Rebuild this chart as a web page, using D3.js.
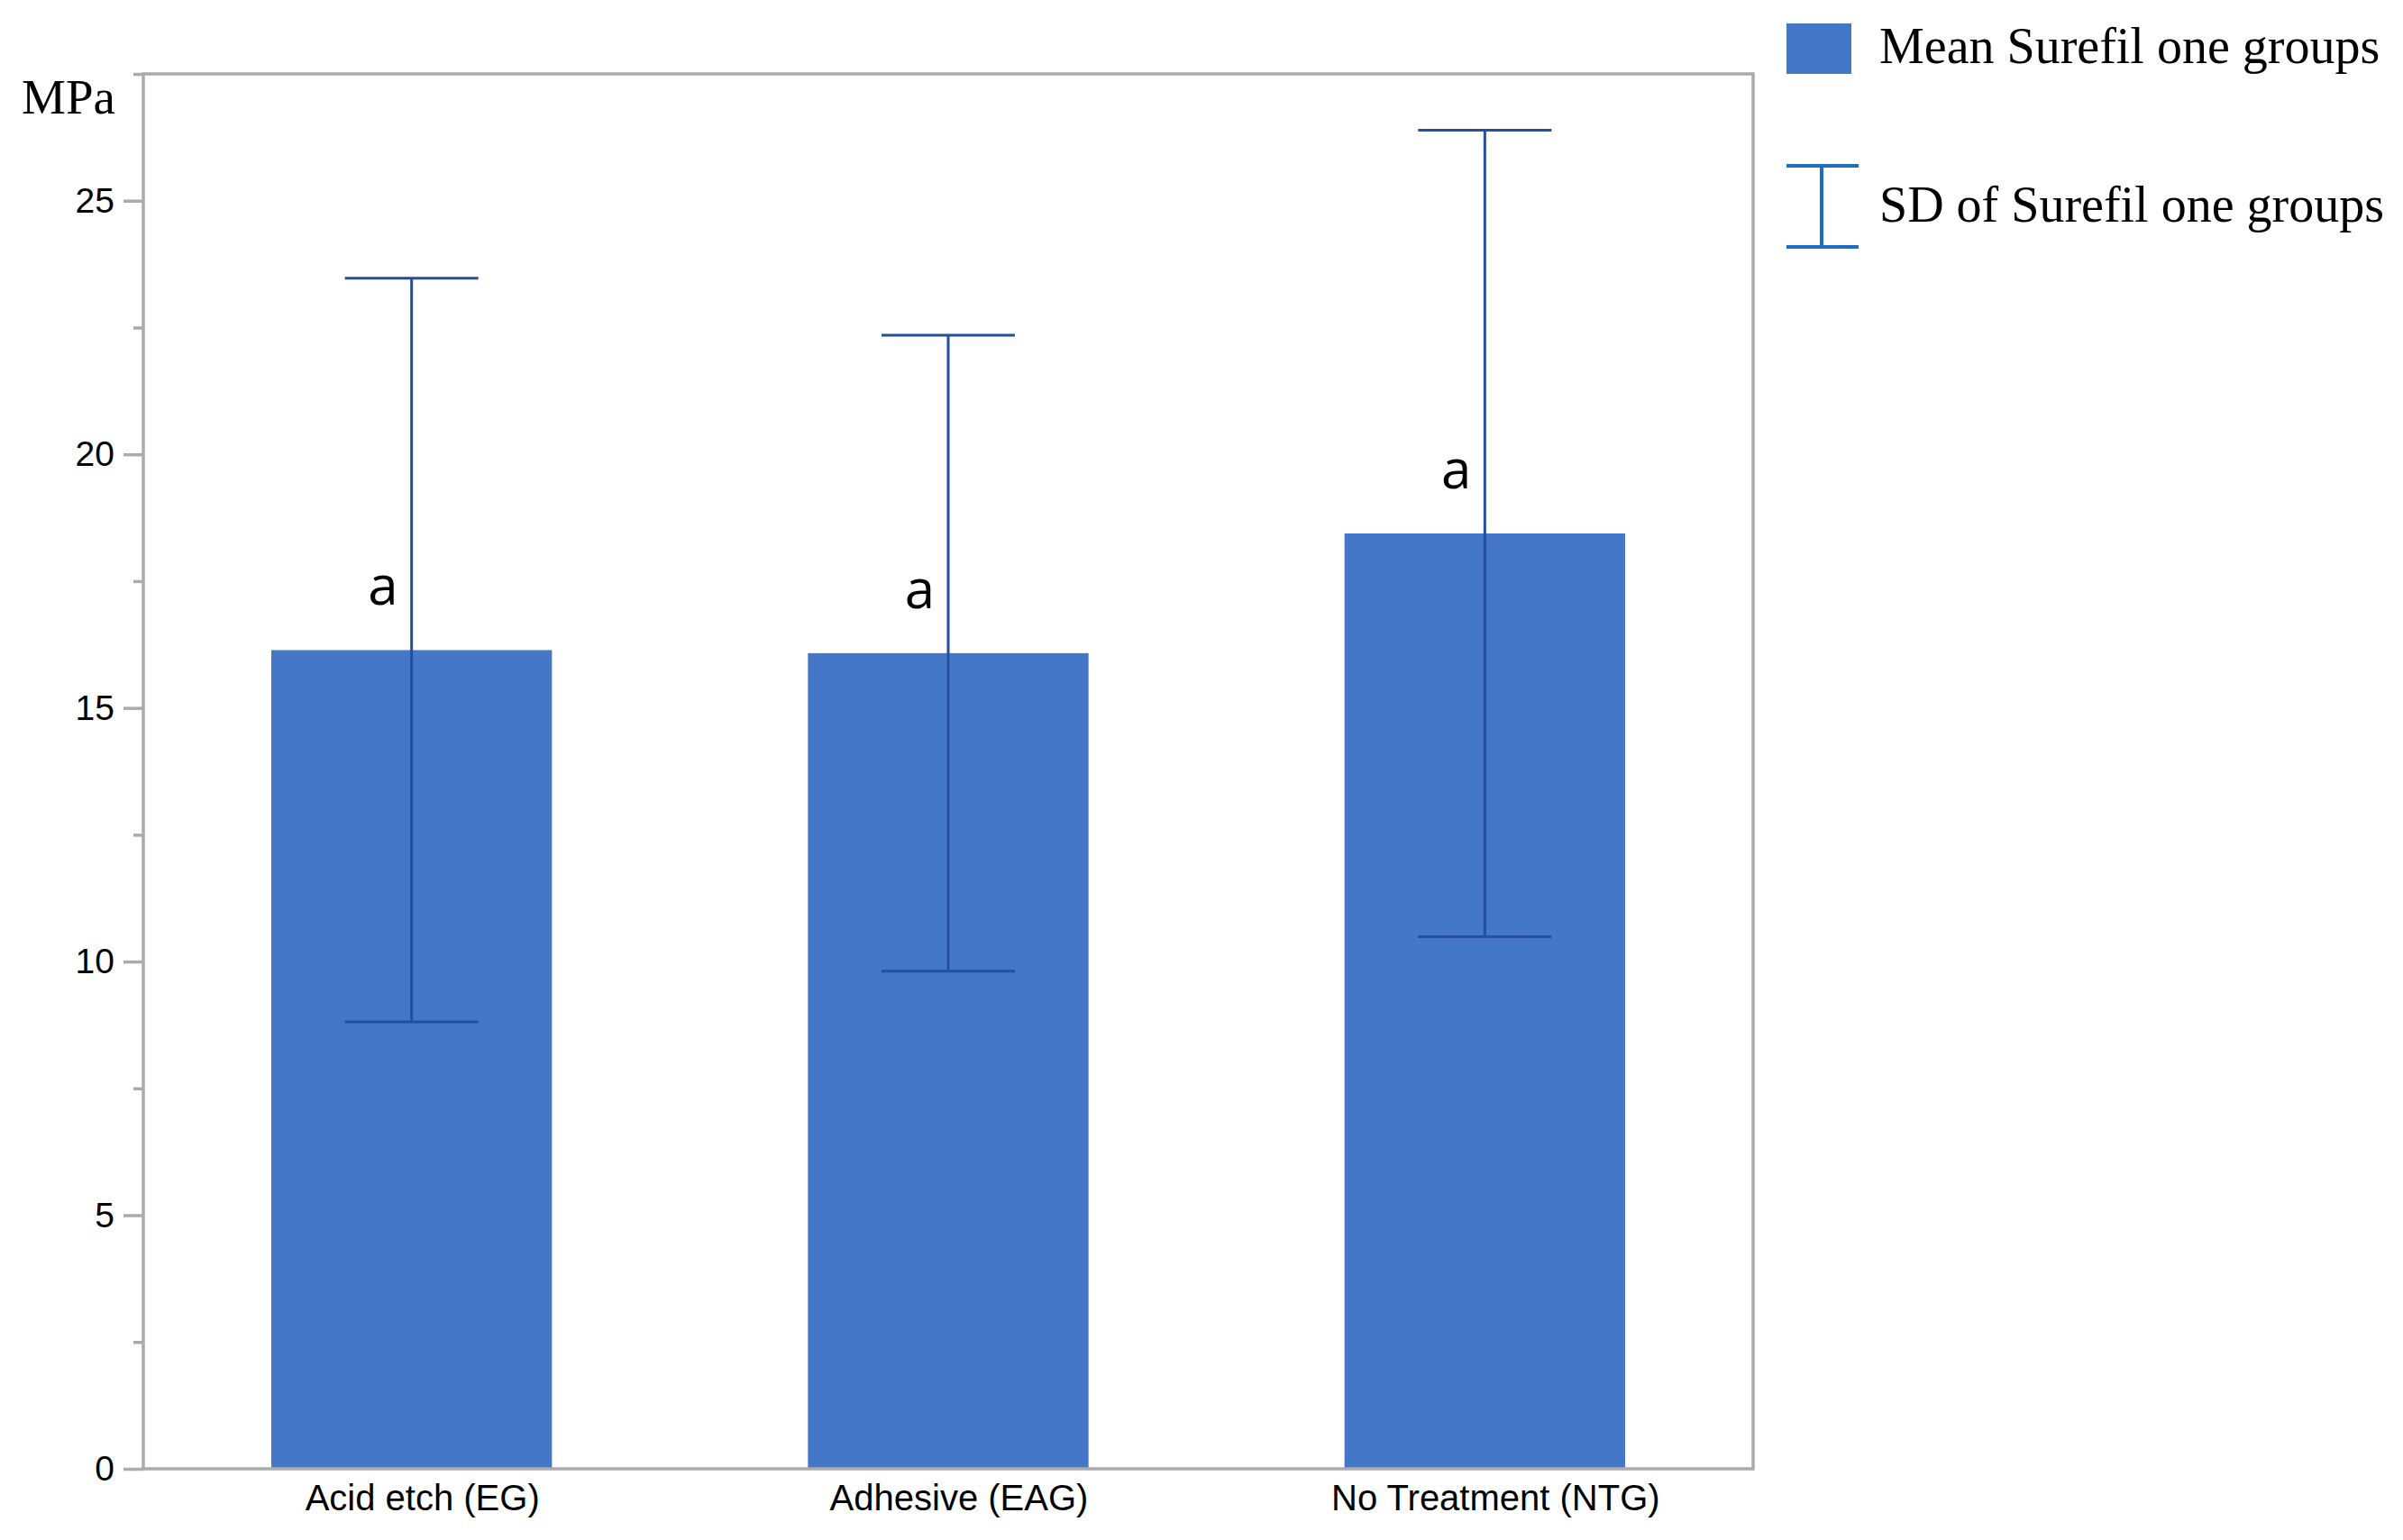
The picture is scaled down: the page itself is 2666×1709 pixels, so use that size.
<!DOCTYPE html>
<html><head><meta charset="utf-8">
<script src="https://cdn.jsdelivr.net/npm/d3@7"></script>
<style>html,body{margin:0;padding:0;background:#fff;}</style>
</head><body>
<script>
const categories = ["Acid etch (EG)", "Adhesive (EAG)", "No Treatment (NTG)"];
const means = [16.14, 16.08, 18.44];
const sds = [7.33, 6.27, 7.95];
const groupLetters = ["a", "a", "a"];
const majorTicks = [0, 5, 10, 15, 20, 25];
const minorTicks = [2.5, 7.5, 12.5, 17.5, 22.5, 27.5];
const yLabel = "MPa";
const legendLabels = ["Mean Surefil one groups", "SD of Surefil one groups"];

const W = 2666, H = 1709;
const m = {left: 159, right: 1945, top: 82, bottom: 1630};
const svg = d3.select("body").append("svg").attr("width", W).attr("height", H);

const x = d3.scaleBand().domain(categories).range([m.left, m.right]).paddingInner(0.477).paddingOuter(0.477/2);
const y = d3.scaleLinear().domain([0, 27.5]).range([m.bottom, m.top]);

const grey = "#ababab";
const barColor = "#4477c7";
const errColor = "#22509c";

// bars
svg.selectAll("rect.bar").data(categories).enter().append("rect")
  .attr("x", d => x(d)).attr("width", x.bandwidth())
  .attr("y", (d, i) => y(means[i])).attr("height", (d, i) => y(0) - y(means[i]))
  .attr("fill", barColor);

// error bars
const capHalf = 74;
const eg = svg.append("g").attr("stroke", errColor).attr("stroke-width", 3);
categories.forEach((c, i) => {
  const cx = x(c) + x.bandwidth() / 2;
  eg.append("line").attr("x1", cx).attr("x2", cx).attr("y1", y(means[i] + sds[i])).attr("y2", y(means[i] - sds[i]));
  eg.append("line").attr("x1", cx - capHalf).attr("x2", cx + capHalf).attr("y1", y(means[i] + sds[i])).attr("y2", y(means[i] + sds[i]));
  eg.append("line").attr("x1", cx - capHalf).attr("x2", cx + capHalf).attr("y1", y(means[i] - sds[i])).attr("y2", y(means[i] - sds[i]));
});

// letters
categories.forEach((c, i) => {
  const cx = x(c) + x.bandwidth() / 2;
  svg.append("text").attr("x", cx - 15).attr("y", y(means[i]) - 50)
    .attr("text-anchor", "end").attr("font-family", "'Open Sans', sans-serif")
    .attr("font-size", 60).attr("fill", "#000").text(groupLetters[i]);
});

// frame
svg.append("rect").attr("x", m.left).attr("y", m.top).attr("width", m.right - m.left).attr("height", m.bottom - m.top)
  .attr("fill", "none").attr("stroke", grey).attr("stroke-width", 3.5);

// y axis
const yAxis = d3.axisLeft(y).tickValues(majorTicks).tickSize(22).tickPadding(10).tickFormat(d3.format("d"));
const ga = svg.append("g").attr("transform", `translate(${m.left},0)`).call(yAxis);
ga.select(".domain").remove();
ga.selectAll(".tick line").attr("stroke", grey).attr("stroke-width", 3.5);
ga.selectAll(".tick text").attr("font-family", "'Liberation Sans', Arial, sans-serif").attr("font-size", 39).attr("fill", "#000");
const yMinor = d3.axisLeft(y).tickValues(minorTicks).tickSize(11).tickFormat("");
const gm = svg.append("g").attr("transform", `translate(${m.left},0)`).call(yMinor);
gm.select(".domain").remove();
gm.selectAll(".tick line").attr("stroke", grey).attr("stroke-width", 3.5);

// x axis
const xAxis = d3.axisBottom(x).tickSize(0).tickPadding(18);
const gx = svg.append("g").attr("transform", `translate(12,${m.bottom})`).call(xAxis);
gx.select(".domain").remove();
gx.selectAll(".tick text").attr("font-family", "'Liberation Sans', Arial, sans-serif").attr("font-size", 40).attr("fill", "#000");

// y label
svg.append("text").attr("x", 24).attr("y", 126).attr("font-family", "'Liberation Serif', serif")
  .attr("font-size", 55).attr("fill", "#000").text(yLabel);

// legend
svg.append("rect").attr("x", 1982).attr("y", 26).attr("width", 72).attr("height", 56).attr("fill", barColor);
const lg = svg.append("g").attr("stroke", "#1f6cc4").attr("stroke-width", 4);
lg.append("line").attr("x1", 2021).attr("x2", 2021).attr("y1", 184).attr("y2", 274);
lg.append("line").attr("x1", 1982).attr("x2", 2062).attr("y1", 184).attr("y2", 184);
lg.append("line").attr("x1", 1982).attr("x2", 2062).attr("y1", 274).attr("y2", 274);
[[legendLabels[0], 70], [legendLabels[1], 246]].forEach(([t, yy]) => {
  svg.append("text").attr("x", 2085).attr("y", yy).attr("font-family", "'Liberation Serif', serif")
    .attr("font-size", 56).attr("fill", "#000").text(t);
});
</script>
</body></html>
